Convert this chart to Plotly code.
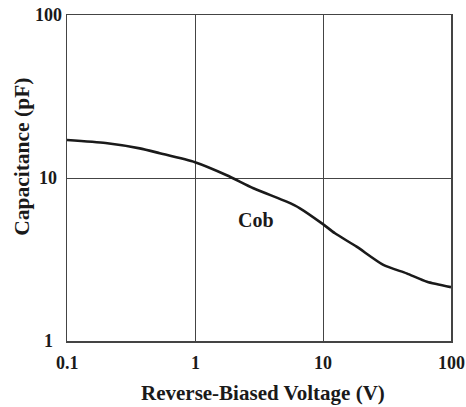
import math
import plotly.graph_objects as go

# Data (Cob vs reverse-biased voltage)
voltage = [0.1, 0.2, 0.37, 0.53, 1.0, 1.77, 2.86, 5.2, 6.6, 9.8, 12.4, 18.3, 29.6, 45, 65, 100]
cob_pf = [17.1, 16.4, 15.2, 14.2, 12.5, 10.4, 8.65, 7.16, 6.52, 5.27, 4.58, 3.79, 2.93, 2.60, 2.31, 2.14]

x_ticks = [0.1, 1, 10, 100]
x_tick_labels = ["0.1", "1", "10", "100"]
y_ticks = [1, 10, 100]
y_tick_labels = ["1", "10", "100"]

series_label = "Cob"
series_label_pos = (3.0, 5.5)

FONT = "Liberation Serif"
INK = "#1a1a1a"
GRID = "#444444"

fig = go.Figure()
fig.add_trace(go.Scatter(
    x=voltage, y=cob_pf, mode="lines",
    line=dict(color=INK, width=2.6, shape="spline", smoothing=0.6),
    hoverinfo="skip", showlegend=False,
))

annotations = []
for v, t in zip(x_ticks, x_tick_labels):
    annotations.append(dict(x=math.log10(v), y=0, xref="x", yref="paper",
                            text=f"<b>{t}</b>", showarrow=False, xanchor="center", yanchor="top",
                            yshift=-10, font=dict(family=FONT, size=18, color=INK)))
for v, t in zip(y_ticks, y_tick_labels):
    annotations.append(dict(x=0, y=math.log10(v), xref="paper", yref="y",
                            text=f"<b>{t}</b>", showarrow=False, xanchor="center", yanchor="middle",
                            xshift=-19, font=dict(family=FONT, size=18, color=INK)))
annotations.append(dict(x=math.log10(series_label_pos[0]), y=math.log10(series_label_pos[1]),
                        xref="x", yref="y", text=f"<b>{series_label}</b>", showarrow=False,
                        font=dict(family=FONT, size=20, color=INK)))
annotations.append(dict(x=0.51, y=0, xref="paper", yref="paper", text="<b>Reverse-Biased Voltage (V)</b>",
                        showarrow=False, xanchor="center", yanchor="middle", yshift=-52,
                        font=dict(family=FONT, size=21, color=INK)))
annotations.append(dict(x=0, y=0.565, xref="paper", yref="paper", text="<b>Capacitance (pF)</b>",
                        showarrow=False, xanchor="center", yanchor="middle", xshift=-45, textangle=-90,
                        font=dict(family=FONT, size=21.5, color=INK)))

axis_common = dict(
    type="log", showgrid=True, gridcolor=GRID, gridwidth=1,
    showline=True, linecolor=GRID, linewidth=1.5, mirror=True,
    ticks="", showticklabels=False, zeroline=False, fixedrange=True,
)
fig.update_layout(
    width=466, height=407,
    margin=dict(l=67, r=15, t=15, b=66),
    paper_bgcolor="white", plot_bgcolor="white",
    xaxis=dict(range=[-1, 2], tickvals=x_ticks, **axis_common),
    yaxis=dict(range=[0, 2], tickvals=y_ticks, **axis_common),
    annotations=annotations,
    showlegend=False,
)
# Remove the default page margin so the figure fills the 466x407 window exactly.
fig.write_html(
    "out.html",
    config={"displayModeBar": False, "staticPlot": True},
    post_script="document.body.style.margin='0px';document.body.style.overflow='hidden';",
)
